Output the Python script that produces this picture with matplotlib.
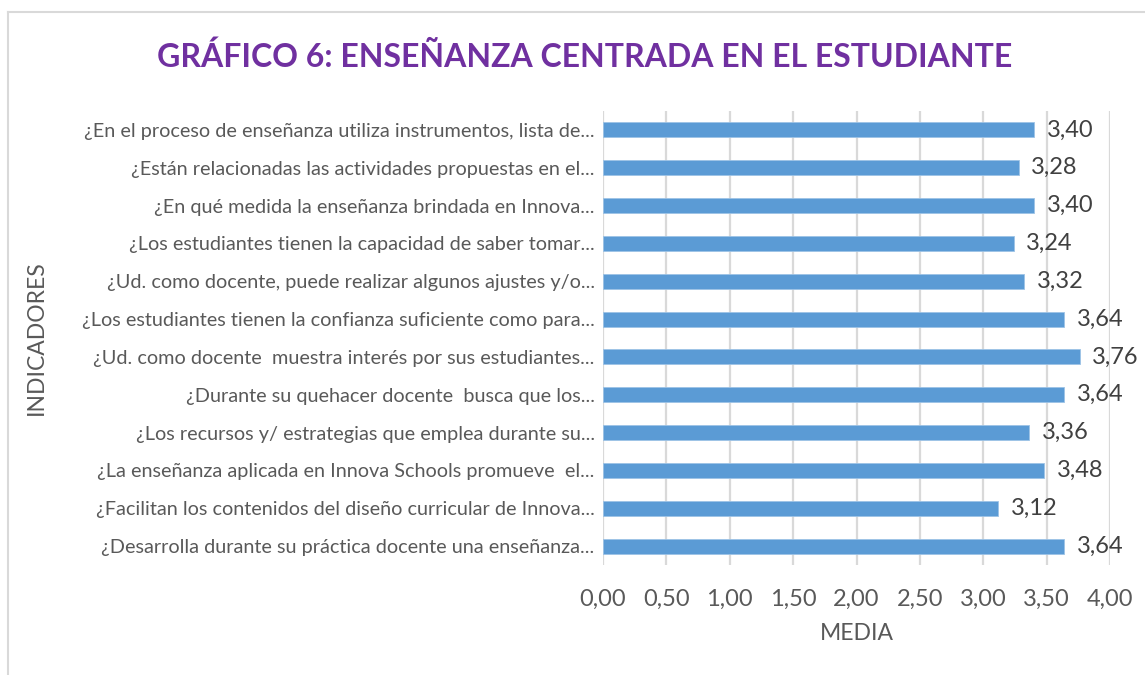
import matplotlib
matplotlib.use("Agg")
import matplotlib.pyplot as plt
from matplotlib.lines import Line2D

plt.rcParams["font.family"] = ["Lato", "DejaVu Sans"]

# ====== Data (top to bottom as shown) ======
preguntas = [
    "¿En el proceso de enseñanza utiliza instrumentos, lista de...",
    "¿Están relacionadas las actividades propuestas en el...",
    "¿En qué medida la enseñanza brindada en Innova...",
    "¿Los estudiantes tienen la capacidad de saber tomar...",
    "¿Ud. como docente, puede realizar algunos ajustes y/o...",
    "¿Los estudiantes tienen la confianza suficiente como para...",
    "¿Ud. como docente  muestra interés por sus estudiantes...",
    "¿Durante su quehacer docente  busca que los...",
    "¿Los recursos y/ estrategias que emplea durante su...",
    "¿La enseñanza aplicada en Innova Schools promueve  el...",
    "¿Facilitan los contenidos del diseño curricular de Innova...",
    "¿Desarrolla durante su práctica docente una enseñanza...",
]
medias = [3.40, 3.28, 3.40, 3.24, 3.32, 3.64, 3.76, 3.64, 3.36, 3.48, 3.12, 3.64]
xticks = [0.0, 0.5, 1.0, 1.5, 2.0, 2.5, 3.0, 3.5, 4.0]

BLUE = "#5B9BD5"
GRAY = "#595959"
PURPLE = "#7030A0"

fig = plt.figure(figsize=(11.45, 6.75), dpi=100)
ax = fig.add_axes([603/1145, 1-565/675, (1110-603)/1145, (565-111)/675])

pos = list(range(len(preguntas)))
ax.barh(pos, medias, height=0.4, color=BLUE, edgecolor="#9DC3E6", linewidth=0.6, zorder=3)
ax.set_ylim(len(preguntas)-0.5, -0.5)
ax.set_xlim(0, 4.0)
ax.set_xticks(xticks)
ax.set_xticklabels([f"{t:.2f}".replace(".", ",") for t in xticks], fontsize=17, color=GRAY)
ax.set_yticks(pos)
ax.set_yticklabels(preguntas, fontsize=14.3, color=GRAY)
ax.tick_params(axis="both", length=0, pad=6)
ax.tick_params(axis="x", pad=17)
ax.grid(axis="x", color="#D9D9D9", linewidth=1.6, zorder=0)
for s in ax.spines.values():
    s.set_visible(False)

for y, v in zip(pos, medias):
    ax.text(v + 0.1, y, f"{v:.2f}".replace(".", ","), va="center", ha="left",
            fontsize=17, color="#404040")

ax.set_xlabel("MEDIA", fontsize=16.5, color=GRAY, labelpad=10)
fig.text(36/1145, 1-338/675, "INDICADORES", rotation=90, va="center", ha="center",
         fontsize=16.5, color=GRAY)

fig.text(585/1145, 1-57/675, "GRÁFICO 6: ENSEÑANZA CENTRADA EN EL ESTUDIANTE",
         ha="center", va="center", fontsize=23, fontweight="bold", color=PURPLE)

# chart frame (top and left edges visible)
fig.add_artist(Line2D([8/1145, 8/1145], [0, 1-12/675], color="#D9D9D9", linewidth=1.5))
fig.add_artist(Line2D([8/1145, 1], [1-12/675, 1-12/675], color="#D9D9D9", linewidth=1.5))

fig.savefig("out.png", dpi=100)
